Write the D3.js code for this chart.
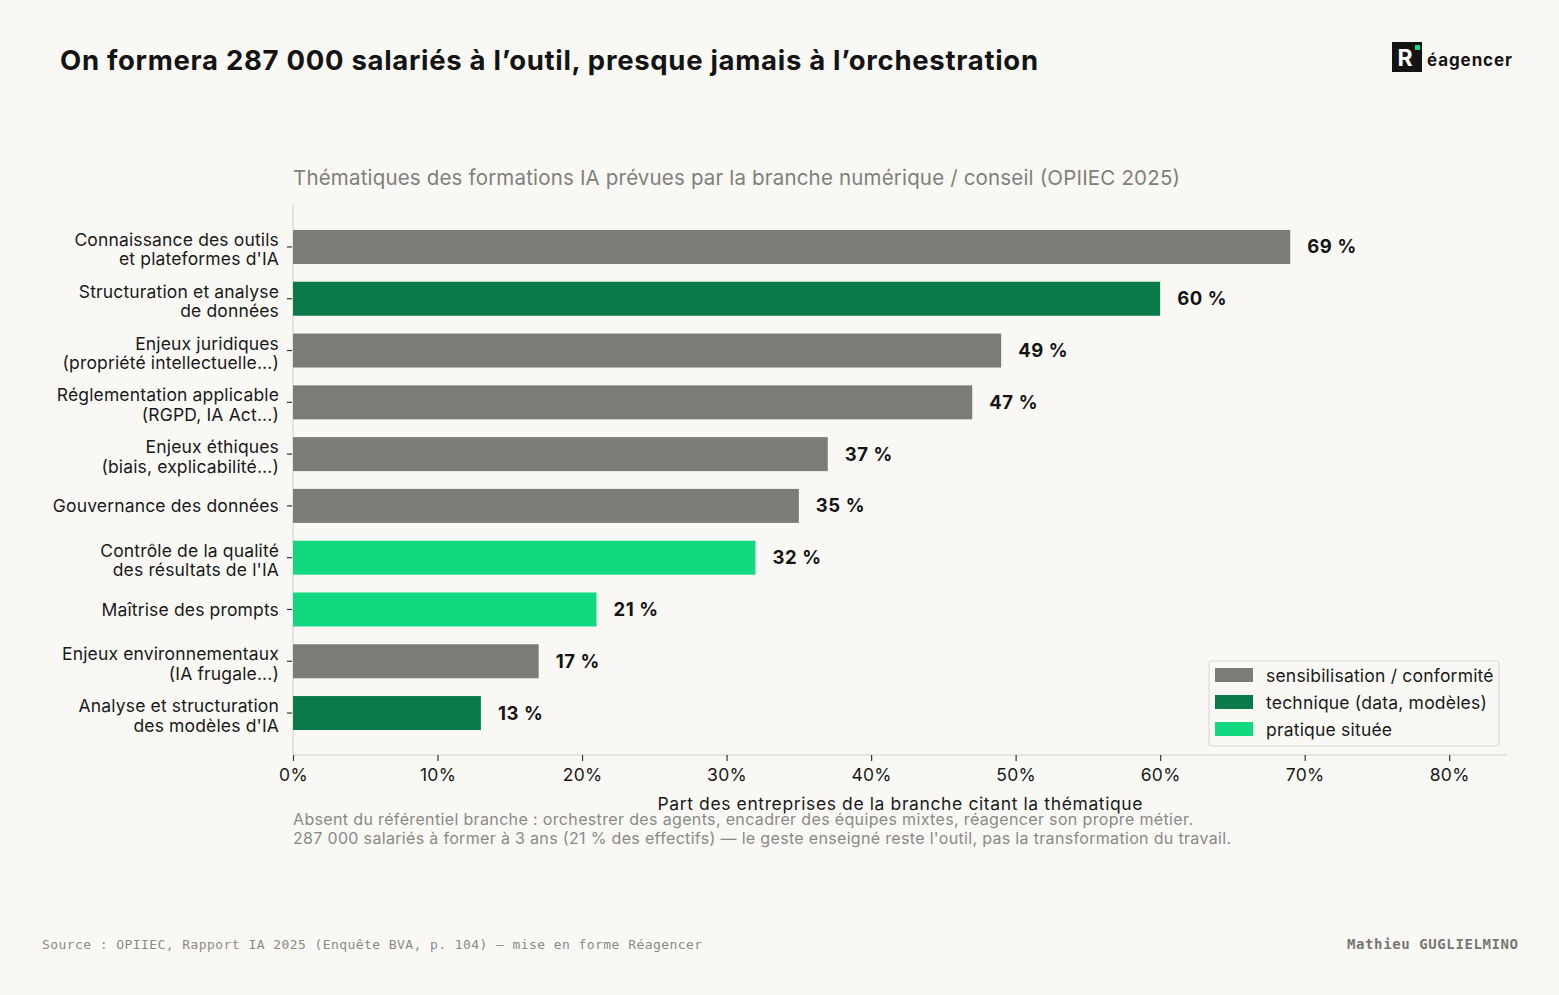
<!DOCTYPE html>
<html>
<head>
<meta charset="utf-8">
<script src="https://cdn.jsdelivr.net/npm/d3@7"></script>
<style>
  body { margin: 0; background: #f9f8f5; }
  svg { display: block; }
</style>
</head>
<body>
<svg id="chart"></svg>
<script>
// data
const labels = [
  ["Connaissance des outils", "et plateformes d'IA"],
  ["Structuration et analyse", "de données"],
  ["Enjeux juridiques", "(propriété intellectuelle...)"],
  ["Réglementation applicable", "(RGPD, IA Act...)"],
  ["Enjeux éthiques", "(biais, explicabilité...)"],
  ["Gouvernance des données"],
  ["Contrôle de la qualité", "des résultats de l'IA"],
  ["Maîtrise des prompts"],
  ["Enjeux environnementaux", "(IA frugale...)"],
  ["Analyse et structuration", "des modèles d'IA"]
];
const values = [69, 60, 49, 47, 37, 35, 32, 21, 17, 13];
const groups = ["sens", "tech", "sens", "sens", "sens", "sens", "prat", "prat", "sens", "tech"];
const groupNames = ["sens", "tech", "prat"];
const groupLabels = ["sensibilisation / conformité", "technique (data, modèles)", "pratique située"];
const xTicks = [0, 10, 20, 30, 40, 50, 60, 70, 80];

const W = 1559, H = 995;
const colors = { sens: "#7c7c76", tech: "#0b7a4a", prat: "#12d97f" };
const font = "Inter, 'Noto Sans', sans-serif";
const mono = "'DejaVu Sans Mono', 'Liberation Mono', monospace";

const svg = d3.select("#chart").attr("width", W).attr("height", H);
svg.append("rect").attr("width", W).attr("height", H).attr("fill", "#f9f8f5");

const x = d3.scaleLinear().domain([0, 84]).range([293, 1507]);
const y = d3.scaleLinear().domain([-0.81, values.length - 1 + 0.81]).range([205, 755]);
const barH = 34;

// title
svg.append("text").attr("x", 60).attr("y", 70)
  .attr("font-family", font).attr("font-weight", 700).attr("font-size", 27.5)
  .attr("fill", "#141414")
  .attr("textLength", 978).attr("lengthAdjust", "spacing")
  .text("On formera 287 000 salariés à l’outil, presque jamais à l’orchestration");

// logo
const logo = svg.append("g");
logo.append("rect").attr("x", 1392).attr("y", 42).attr("width", 30).attr("height", 30).attr("fill", "#141414");
logo.append("text").attr("x", 1405).attr("y", 66).attr("text-anchor", "middle")
  .attr("font-family", font).attr("font-weight", 700).attr("font-size", 23).attr("fill", "#fff").text("R");
logo.append("rect").attr("x", 1415).attr("y", 45).attr("width", 5).attr("height", 5).attr("fill", "#12d97f");
logo.append("text").attr("x", 1427).attr("y", 66)
  .attr("font-family", font).attr("font-weight", 700).attr("font-size", 17)
  .attr("textLength", 85).attr("lengthAdjust", "spacing")
  .attr("fill", "#141414").text("éagencer");

// subtitle
svg.append("text").attr("x", 293).attr("y", 185)
  .attr("font-family", font).attr("font-size", 20.5).attr("fill", "#80807b")
  .attr("textLength", 887).attr("lengthAdjust", "spacing")
  .text("Thématiques des formations IA prévues par la branche numérique / conseil (OPIIEC 2025)");

// spines
svg.append("line").attr("x1", 293).attr("x2", 293).attr("y1", 205).attr("y2", 755)
  .attr("stroke", "#dcdcd8").attr("stroke-width", 1.5);
svg.append("line").attr("x1", 293).attr("x2", 1507).attr("y1", 755).attr("y2", 755)
  .attr("stroke", "#dcdcd8").attr("stroke-width", 1.5);

// bars
svg.append("g").selectAll("rect")
  .data(values)
  .join("rect")
  .attr("x", x(0))
  .attr("y", (d, i) => y(i) - barH / 2)
  .attr("width", d => x(d) - x(0))
  .attr("height", barH)
  .attr("fill", (d, i) => colors[groups[i]]);

// value labels
svg.append("g").selectAll("text")
  .data(values)
  .join("text")
  .attr("x", d => x(d) + 17)
  .attr("y", (d, i) => y(i) + 6.5)
  .attr("font-family", font).attr("font-weight", 700).attr("font-size", 18.5)
  .attr("letter-spacing", 0.6)
  .attr("fill", "#141414")
  .text(d => d + " %");

// y axis labels + ticks
const yl = svg.append("g").selectAll("g").data(labels).join("g")
  .attr("transform", (d, i) => "translate(0," + y(i) + ")");
yl.append("line").attr("x1", 287).attr("x2", 292).attr("stroke", "#333").attr("stroke-width", 1.2);
yl.each(function(d){
  const t = d3.select(this).append("text")
    .attr("text-anchor", "end")
    .attr("font-family", font).attr("font-size", 17.5).attr("fill", "#1a1a1a")
    .attr("letter-spacing", 0.15);
  const off = d.length == 2 ? -1 : 6.5;
  d.forEach((line, k) => {
    t.append("tspan").attr("x", 279).attr("y", off + k * 19.5).text(line);
  });
});

// x axis
const xa = svg.append("g").attr("transform", "translate(0,755)")
  .call(d3.axisBottom(x).tickValues(xTicks).tickSize(6).tickPadding(8).tickFormat(d => d + "%"));
xa.select(".domain").remove();
xa.selectAll(".tick line").attr("stroke", "#333").attr("stroke-width", 1.2);
xa.selectAll(".tick text").attr("font-family", font).attr("font-size", 17.5).attr("fill", "#1a1a1a")
  .attr("letter-spacing", 0.3);

svg.append("text").attr("x", 900).attr("y", 810).attr("text-anchor", "middle")
  .attr("font-family", font).attr("font-size", 17.5).attr("fill", "#1a1a1a")
  .attr("textLength", 485).attr("lengthAdjust", "spacing")
  .text("Part des entreprises de la branche citant la thématique");

// annotation
const notes = [
  "Absent du référentiel branche : orchestrer des agents, encadrer des équipes mixtes, réagencer son propre métier.",
  "287 000 salariés à former à 3 ans (21 % des effectifs) — le geste enseigné reste l'outil, pas la transformation du travail."
];
const noteLen = [900, 938];
svg.append("g").selectAll("text").data(notes).join("text")
  .attr("x", 293).attr("y", (d, i) => 825 + i * 19)
  .attr("font-family", font).attr("font-size", 16).attr("fill", "#8a8a85")
  .attr("textLength", (d, i) => noteLen[i]).attr("lengthAdjust", "spacing")
  .text(d => d);

// legend
const lg = svg.append("g");
lg.append("rect").attr("x", 1209).attr("y", 661).attr("width", 290).attr("height", 85)
  .attr("rx", 3).attr("fill", "#f9f8f5").attr("stroke", "#dcdcd8").attr("stroke-width", 1.2);
const li = lg.selectAll("g").data(groupNames).join("g")
  .attr("transform", (d, i) => "translate(0," + (675 + i * 27) + ")");
li.append("rect").attr("x", 1215).attr("y", -7).attr("width", 38).attr("height", 14)
  .attr("fill", d => colors[d]);
li.append("text").attr("x", 1266).attr("y", 6.5)
  .attr("font-family", font).attr("font-size", 17.5).attr("fill", "#1a1a1a")
  .attr("letter-spacing", 0.2)
  .text((d, i) => groupLabels[i]);

// footer
svg.append("text").attr("x", 42).attr("y", 949)
  .attr("font-family", mono).attr("font-size", 13).attr("fill", "#8a8a85")
  .attr("textLength", 660).attr("lengthAdjust", "spacing")
  .text("Source : OPIIEC, Rapport IA 2025 (Enquête BVA, p. 104) — mise en forme Réagencer");
svg.append("text").attr("x", 1518).attr("y", 949).attr("text-anchor", "end")
  .attr("font-family", mono).attr("font-weight", 700).attr("font-size", 14).attr("fill", "#777772")
  .attr("textLength", 171).attr("lengthAdjust", "spacing")
  .text("Mathieu GUGLIELMINO");
</script>
</body>
</html>
